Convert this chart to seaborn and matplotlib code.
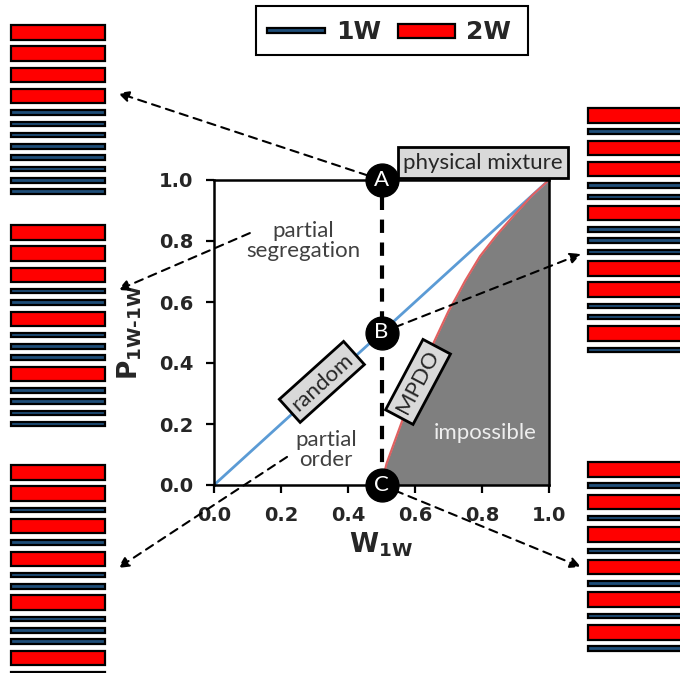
import matplotlib
matplotlib.use("Agg")
import numpy as np
import pandas as pd
import matplotlib.pyplot as plt
import seaborn as sns
from matplotlib.patches import Rectangle

# diagonal (random) line
w_diag = [0.0, 1.0]
p_diag = [0.0, 1.0]

# MPDO boundary
w_mpdo = [0.50, 0.515, 0.565, 0.60, 0.655, 0.70, 0.724, 0.75, 0.794, 0.844, 0.90, 0.95, 1.00]
p_mpdo = [0.00, 0.07, 0.22, 0.33, 0.465, 0.57, 0.617, 0.67, 0.75, 0.82, 0.89, 0.95, 1.00]

# labelled points
pt_labels = ["A", "B", "C"]
pt_w = [0.5, 0.5, 0.5]
pt_p = [1.0, 0.5, 0.0]

ticks = [0.0, 0.2, 0.4, 0.6, 0.8, 1.0]
tick_labels = ["0.0", "0.2", "0.4", "0.6", "0.8", "1.0"]

# layer stacks (R = 2W, B = 1W), top to bottom
stack_A = list("RRRRBBBBBBBB")
stack_seg = list("RRRBBRBBBRBBBB")
stack_B = list("RBRRBBRBBBRRBBRB")
stack_order = list("RRBRBRBBRBBBRB")
stack_C = list("RBRBRBRBRBRB")

RED = "#FF0000"
BLUE = "#1F4E79"
LINE_BLUE = "#5B9BD5"
LINE_RED = "#E06060"
BOX = "#D9D9D9"

sns.set_theme(style="ticks")
plt.rcParams["font.family"] = ["DejaVu Sans"]
plt.rcParams["mathtext.fontset"] = "dejavusans"
plt.rcParams["mathtext.default"] = "bf"

fig = plt.figure(figsize=(6.8, 6.73), dpi=100)

# overlay in pixel units for the stacks and the legend
ov = fig.add_axes([0, 0, 1, 1], zorder=0)
ov.set_xlim(0, 680)
ov.set_ylim(673, 0)
ov.axis("off")


def draw_stack(layers, x0, y0, width):
    hs = [14.5 if l == "R" else 4.5 for l in layers]
    pitch = [21.3 if l == "R" else 11.3 for l in layers]
    tops = y0 + np.concatenate([[0], np.cumsum(pitch)[:-1]])
    centers = tops + np.array(hs) / 2
    cols = [RED if l == "R" else BLUE for l in layers]
    ov.barh(centers, width, left=x0, height=hs, color=cols,
            edgecolor="black", linewidth=1.6, clip_on=False)


draw_stack(stack_A, 11, 25, 94)
draw_stack(stack_seg, 11, 225, 94)
draw_stack(stack_order, 11, 465, 94)
draw_stack(stack_B, 588, 108, 100)
draw_stack(stack_C, 588, 462, 100)

# legend box
ov.add_patch(Rectangle((256, 6), 272, 49, fill=False, edgecolor="black", lw=1.5))
ov.add_patch(Rectangle((267, 28), 58, 5, facecolor=BLUE, edgecolor="black", lw=1.6))
ov.add_patch(Rectangle((398, 24), 57, 14, facecolor=RED, edgecolor="black", lw=1.6))
ov.text(336, 32, "1W", fontsize=18, fontweight="bold", va="center", ha="left")
ov.text(466, 32, "2W", fontsize=18, fontweight="bold", va="center", ha="left")

# main plot
ax = fig.add_axes([214 / 680, 188 / 673, 335 / 680, 305 / 673], zorder=1)
ax.fill_between(w_mpdo, 0, p_mpdo, color="#7F7F7F", lw=0)
sns.lineplot(x=w_diag, y=p_diag, ax=ax, color=LINE_BLUE, lw=2)
sns.lineplot(x=w_mpdo, y=p_mpdo, ax=ax, color=LINE_RED, lw=1.6)
ax.axvline(pt_w[0], ymin=0, ymax=1, color="black", lw=3, ls=(0, (3.2, 2.3)), zorder=3)

ax.set_xlim(0, 1)
ax.set_ylim(0, 1)
ax.set_xticks(ticks)
ax.set_xticklabels(tick_labels, fontsize=14, fontweight="bold")
ax.set_yticks(ticks)
ax.set_yticklabels(tick_labels, fontsize=14, fontweight="bold")
ax.tick_params(direction="out", length=6, width=1.6, color="black", pad=9)
for s in ax.spines.values():
    s.set_linewidth(1.8)
    s.set_color("black")
ax.set_xlabel("$W_{1W}$", fontsize=19, labelpad=4)
ax.set_ylabel("$P_{1W\u20101W}$", fontsize=19, labelpad=11)

# dashed arrows to the stacks
arrow_kw = dict(arrowstyle="-|>", color="black", lw=1.5, ls=(0, (4, 3)),
                mutation_scale=16, shrinkA=0, shrinkB=0)
arrows = [((118, 580), (0.5, 1.0)),
          ((118, 383), (0.107, 0.826)),
          ((118, 105), (0.218, 0.092)),
          ((581, 419), (0.5, 0.5)),
          ((581, 106), (0.5, 0.0))]
for tip, start in arrows:
    ax.annotate("", xy=tip, xycoords="figure pixels", xytext=start,
                textcoords="data", arrowprops=arrow_kw, annotation_clip=False,
                zorder=4)

# labelled points
ax.scatter(pt_w, pt_p, s=560, color="black", zorder=6, clip_on=False)
for lab, x, y in zip(pt_labels, pt_w, pt_p):
    ax.text(x, y, lab, color="white", fontsize=16, ha="center", va="center",
            family="Lato", zorder=7)

txt_kw = dict(family="Lato", fontsize=16, ha="center", va="center")
box_kw = dict(boxstyle="square,pad=0.25", facecolor=BOX, edgecolor="black", lw=2)
ax.text(0.803, 1.056, "physical mixture", bbox=box_kw, zorder=5, clip_on=False, **txt_kw)
ax.text(0.322, 0.338, "random", rotation=42, rotation_mode="anchor", bbox=box_kw,
        zorder=5, **txt_kw)
ax.text(0.609, 0.338, "MPDO", rotation=62, rotation_mode="anchor", bbox=box_kw,
        zorder=5, **txt_kw)
ax.text(0.266, 0.80, "partial\nsegregation", color="#404040", linespacing=1.0, **txt_kw)
ax.text(0.334, 0.115, "partial\norder", color="#404040", linespacing=1.0, **txt_kw)
ax.text(0.81, 0.17, "impossible", color="#EEEEEE", **txt_kw)

fig.savefig("out.png", dpi=100)
